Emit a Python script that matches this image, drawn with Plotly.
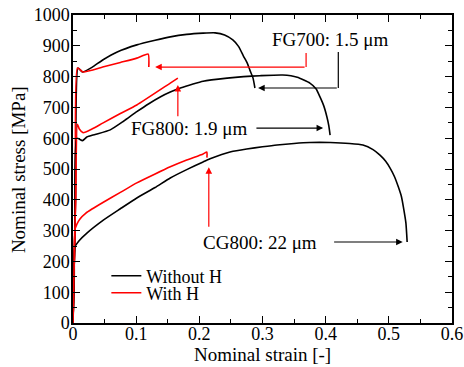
import plotly.graph_objects as go

# ---- data ----
fg700_noH_strain = [0, 0.004, 0.008, 0.015, 0.03, 0.047, 0.07, 0.101, 0.13, 0.154, 0.18, 0.206, 0.225, 0.24, 0.253, 0.262, 0.27, 0.276, 0.28, 0.285, 0.288]
fg700_noH_stress = [0, 400, 828, 815, 830, 854, 880, 903, 918, 929, 937, 941, 942, 935, 919, 898, 866, 843, 821, 795, 763]

fg700_H_strain = [0, 0.004, 0.007, 0.016, 0.047, 0.075, 0.101, 0.119, 0.12]
fg700_H_stress = [0, 400, 828, 815, 831, 846, 860, 873, 831]

fg800_noH_strain = [0, 0.003, 0.006, 0.015, 0.022, 0.035, 0.059, 0.08, 0.101, 0.12, 0.138, 0.154, 0.17, 0.19, 0.206, 0.244, 0.27, 0.296, 0.332, 0.355, 0.375, 0.385, 0.391, 0.397, 0.402, 0.405, 0.407]
fg800_noH_stress = [0, 300, 600, 592, 604, 612, 627, 655, 686, 712, 734, 750, 763, 776, 785, 795, 800, 803, 805, 798, 779, 760, 734, 705, 669, 640, 610]

fg800_H_strain = [0, 0.004, 0.007, 0.01, 0.016, 0.03, 0.047, 0.075, 0.101, 0.154, 0.166]
fg800_H_stress = [0, 400, 645, 630, 618, 630, 649, 680, 708, 779, 795]

cg800_noH_strain = [0, 0.002, 0.003, 0.01, 0.022, 0.048, 0.075, 0.101, 0.13, 0.154, 0.18, 0.206, 0.217, 0.25, 0.275, 0.3, 0.323, 0.35, 0.375, 0.407, 0.438, 0.459, 0.475, 0.486, 0.495, 0.502, 0.509, 0.515, 0.52, 0.523, 0.527, 0.529]
cg800_noH_stress = [0, 150, 247, 268, 292, 334, 371, 406, 440, 471, 498, 523, 533, 556, 565, 572, 578, 583, 586, 586, 583, 578, 563, 545, 525, 503, 475, 442, 410, 377, 325, 263]

cg800_H_strain = [0, 0.002, 0.003, 0.006, 0.011, 0.02, 0.03, 0.048, 0.075, 0.101, 0.13, 0.154, 0.18, 0.206, 0.212, 0.212]
cg800_H_stress = [0, 200, 302, 320, 338, 356, 370, 392, 424, 455, 484, 507, 529, 549, 555, 537]

labels = ["FG700: 1.5 μm", "FG800: 1.9 μm", "CG800: 22 μm"]
legend_names = ["Without H", "With H"]
x_title = "Nominal strain [-]"
y_title = "Nominal stress [MPa]"

FONT = "Liberation Serif, Times New Roman, serif"
BLACK = "black"
RED = "#ff0000"

fig = go.Figure()

series = [
    (fg700_noH_strain, fg700_noH_stress, BLACK, legend_names[0], True, "legend"),
    (fg700_H_strain, fg700_H_stress, RED, legend_names[1], True, "legend2"),
    (fg800_noH_strain, fg800_noH_stress, BLACK, legend_names[0], False, "legend"),
    (fg800_H_strain, fg800_H_stress, RED, legend_names[1], False, "legend2"),
    (cg800_noH_strain, cg800_noH_stress, BLACK, legend_names[0], False, "legend"),
    (cg800_H_strain, cg800_H_stress, RED, legend_names[1], False, "legend2"),
]
for xs, ys, col, name, show, lg in series:
    fig.add_trace(go.Scatter(x=xs, y=ys, mode="lines",
                             line=dict(color=col, width=1.6, shape="spline", smoothing=0.5),
                             name=name, legendgroup=name, showlegend=show, legend=lg))

annots = []
annots.append(dict(x=0.407, y=919, text=labels[0]))
annots.append(dict(x=0.185, y=633, text=labels[1]))
annots.append(dict(x=0.296, y=263, text=labels[2]))
for a in annots:
    a.update(xref="x", yref="y", showarrow=False, font=dict(family=FONT, size=19, color="black"))

# axis titles (paper coords)
annots.append(dict(x=0.501, y=-0.103, xref="paper", yref="paper", text=x_title, showarrow=False,
                   xanchor="center", yanchor="middle", font=dict(family=FONT, size=19, color="black")))
annots.append(dict(x=-0.142, y=0.497, xref="paper", yref="paper", text=y_title, showarrow=False,
                   textangle=-90, xanchor="center", yanchor="middle",
                   font=dict(family=FONT, size=19, color="black")))

def arrow(x, y, ax, ay, col):
    return dict(x=x, y=y, ax=ax, ay=ay, xref="x", yref="y", axref="x", ayref="y",
                text="", showarrow=True, arrowhead=2, arrowsize=1.1, arrowwidth=1.2, arrowcolor=col)

annots += [
    arrow(0.396, 633, 0.288, 633, BLACK),
    arrow(0.166, 773, 0.166, 666, RED),
    arrow(0.522, 263, 0.411, 263, BLACK),
    arrow(0.215, 506, 0.215, 308, RED),
    arrow(0.293, 763, 0.42, 763, BLACK),
    arrow(0.13, 831, 0.369, 831, RED),
]

shapes = [
    dict(type="line", xref="x", yref="y", x0=0.42, y0=880, x1=0.42, y1=763, line=dict(color=BLACK, width=1.2)),
    dict(type="line", xref="x", yref="y", x0=0.369, y0=877, x1=0.369, y1=831, line=dict(color=RED, width=1.2)),
]

axis_common = dict(showline=True, linecolor="black", linewidth=1.5, mirror="ticks",
                   ticks="inside", tickcolor="black", tickwidth=1.3, ticklen=7,
                   showgrid=False, zeroline=False, automargin=False,
                   ticklabeloverflow="allow",
                   tickfont=dict(family=FONT, size=18, color="black"))

leg_common = dict(xanchor="left", yanchor="middle", bgcolor="rgba(0,0,0,0)",
                  font=dict(family=FONT, size=18, color="black"), itemwidth=30)

fig.update_layout(
    width=464, height=367,
    margin=dict(l=73, r=12, t=15, b=44),
    paper_bgcolor="white", plot_bgcolor="white",
    annotations=annots, shapes=shapes,
    xaxis=dict(range=[0, 0.6], dtick=0.1, tickformat="~g", ticklabelstandoff=-6,
               minor=dict(ticks="inside", dtick=0.05, ticklen=4, tickcolor="black", tickwidth=1.3),
               **axis_common),
    yaxis=dict(range=[0, 1000], dtick=100, ticklabelstandoff=-2,
               minor=dict(ticks="inside", dtick=50, ticklen=4, tickcolor="black", tickwidth=1.3),
               **axis_common),
    legend=dict(x=0.088, y=(323 - 276) / 308, **leg_common),
    legend2=dict(x=0.088, y=(323 - 293) / 308, **leg_common),
    showlegend=True,
)

# remove the browser's default 8px body margin so the figure sits at the window origin
fig.write_html("out.html", config={"displayModeBar": False},
               post_script="document.body.style.margin='0';")
